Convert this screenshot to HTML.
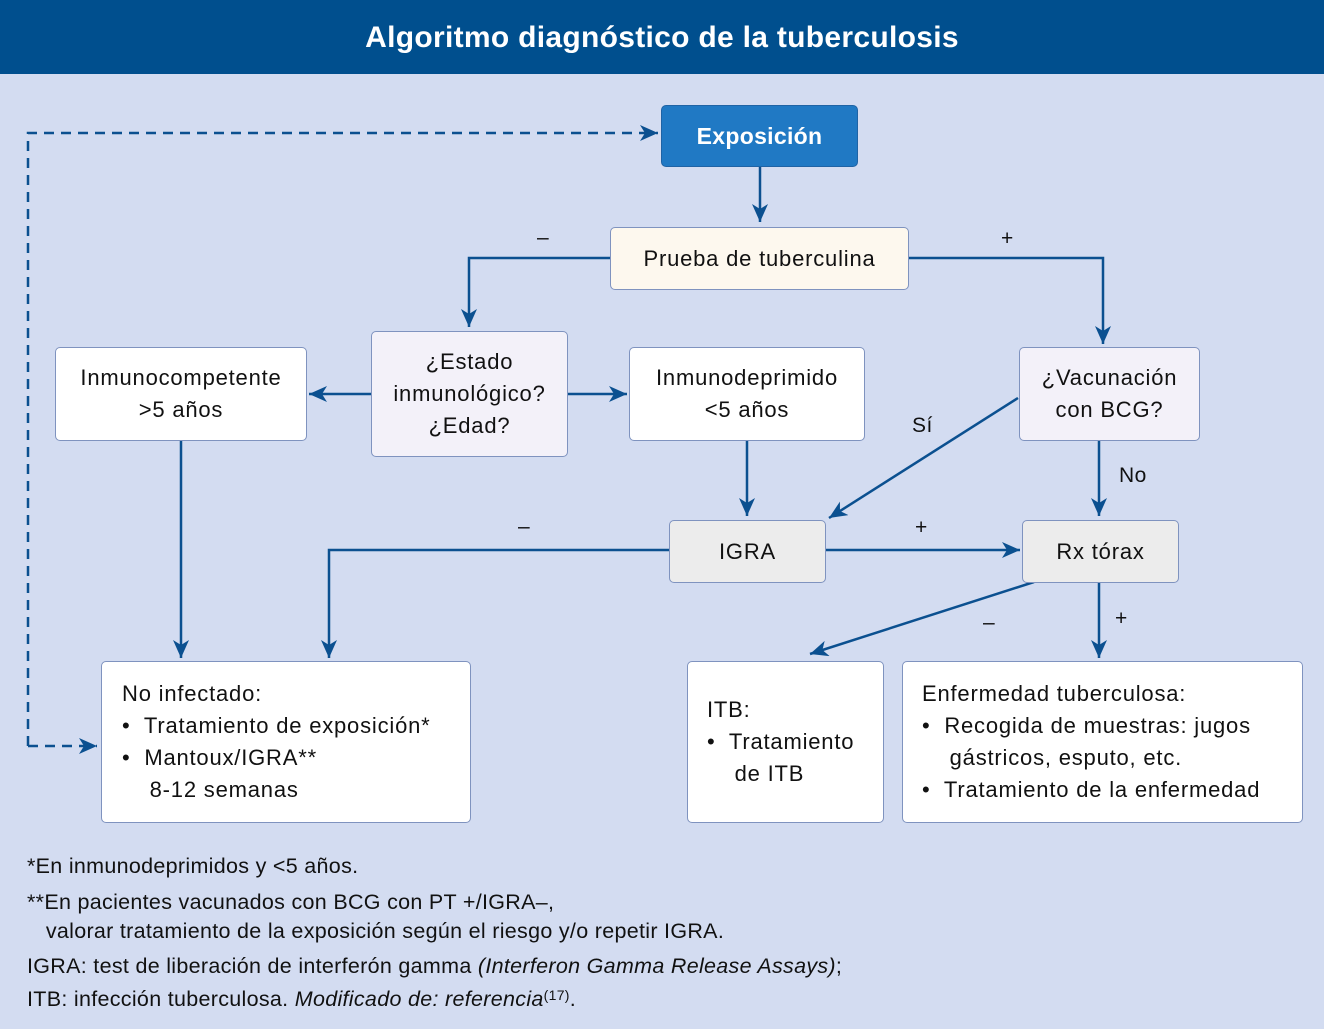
<!DOCTYPE html>
<html><head><meta charset="utf-8"><style>
body{margin:0;width:1324px;height:1029px;background:#d3dcf1;font-family:"Liberation Sans",sans-serif;position:relative;overflow:hidden;color:#111}
.hd{position:absolute;left:0;top:0;width:1324px;height:74px;background:#004f8e;color:#fff;font-weight:bold;font-size:30px;text-align:center;line-height:76px;letter-spacing:0.3px}
.b{position:absolute;box-sizing:border-box;border:1.5px solid #7f93bf;border-radius:5px;background:#fff;font-size:22px;letter-spacing:0.8px;display:flex;align-items:center;justify-content:center;text-align:center;line-height:32px}
.l{position:absolute;font-size:21px;letter-spacing:0.5px}
.lst{position:absolute;font-size:22px;letter-spacing:0.8px;line-height:32px}
.fn{position:absolute;left:27px;font-size:21.5px;letter-spacing:0.3px;line-height:29px;white-space:nowrap}
svg{position:absolute;left:0;top:0}
</style></head><body>
<div class="hd">Algoritmo diagnóstico de la tuberculosis</div>
<svg width="1324" height="1029">
<defs>
<marker id="a2" markerWidth="20" markerHeight="16" refX="18" refY="8" orient="auto" markerUnits="userSpaceOnUse"><path d="M0,0 L18,8 L0,16 L5,8Z" fill="#0b5090"/></marker></defs>
<g stroke="#0b5090" stroke-width="2.5" fill="none">
<path d="M760,167 V222" marker-end="url(#a2)"/>
<path d="M610,258 H469 V327" marker-end="url(#a2)"/>
<path d="M908,258 H1103 V344" marker-end="url(#a2)"/>
<path d="M371,394 H309" marker-end="url(#a2)"/>
<path d="M567,394 H627" marker-end="url(#a2)"/>
<path d="M747,440 V516" marker-end="url(#a2)"/>
<path d="M1018,398 L829,518" marker-end="url(#a2)"/>
<path d="M1099,440 V516" marker-end="url(#a2)"/>
<path d="M181,440 V658" marker-end="url(#a2)"/>
<path d="M669,550 H329 V658" marker-end="url(#a2)"/>
<path d="M826,550 H1020" marker-end="url(#a2)"/>
<path d="M1034,582 L810,654" marker-end="url(#a2)"/>
<path d="M1099,582 V658" marker-end="url(#a2)"/>
<path d="M28,746 V133 H658" stroke-dasharray="10,7" marker-end="url(#a2)"/>
<path d="M28,746 H97" stroke-dasharray="10,7" marker-end="url(#a2)"/>
</g></svg>
<div class="b" style="left:661px;top:105px;width:197px;height:62px;background:#2079c4;border-color:#1f63a5;color:#fff;font-weight:bold;font-size:23px;letter-spacing:0.3px">Exposición</div>
<div class="b" style="left:610px;top:227px;width:299px;height:63px;background:#fdf8ee">Prueba de tuberculina</div>
<div class="b" style="left:371px;top:331px;width:197px;height:126px;background:#f3f1f9">¿Estado<br>inmunológico?<br>¿Edad?</div>
<div class="b" style="left:55px;top:347px;width:252px;height:94px">Inmunocompetente<br>&gt;5 años</div>
<div class="b" style="left:629px;top:347px;width:236px;height:94px">Inmunodeprimido<br>&lt;5 años</div>
<div class="b" style="left:1019px;top:347px;width:181px;height:94px;background:#f3f1f9">¿Vacunación<br>con BCG?</div>
<div class="b" style="left:669px;top:520px;width:157px;height:63px;background:#ececec">IGRA</div>
<div class="b" style="left:1022px;top:520px;width:157px;height:63px;background:#ececec">Rx tórax</div>
<div class="b" style="left:101px;top:661px;width:370px;height:162px"></div>
<div class="lst" style="left:122px;top:678px">No infectado:<br>•&nbsp; Tratamiento de exposición*<br>•&nbsp; Mantoux/IGRA**<br>&nbsp;&nbsp;&nbsp;&nbsp;8-12 semanas</div>
<div class="b" style="left:687px;top:661px;width:197px;height:162px"></div>
<div class="lst" style="left:707px;top:694px">ITB:<br>•&nbsp; Tratamiento<br>&nbsp;&nbsp;&nbsp;&nbsp;de ITB</div>
<div class="b" style="left:902px;top:661px;width:401px;height:162px"></div>
<div class="lst" style="left:922px;top:678px">Enfermedad tuberculosa:<br>•&nbsp; Recogida de muestras: jugos<br>&nbsp;&nbsp;&nbsp;&nbsp;gástricos, esputo, etc.<br>•&nbsp; Tratamiento de la enfermedad</div>
<div class="l" style="left:537px;top:226px">–</div>
<div class="l" style="left:1001px;top:227px">+</div>
<div class="l" style="left:912px;top:414px">Sí</div>
<div class="l" style="left:1119px;top:464px">No</div>
<div class="l" style="left:518px;top:515px">–</div>
<div class="l" style="left:915px;top:516px">+</div>
<div class="l" style="left:983px;top:611px">–</div>
<div class="l" style="left:1115px;top:607px">+</div>
<div class="fn" style="top:852px">*En inmunodeprimidos y &lt;5 años.</div>
<div class="fn" style="top:888px">**En pacientes vacunados con BCG con PT +/IGRA–,<br>&nbsp;&nbsp;&nbsp;valorar tratamiento de la exposición según el riesgo y/o repetir IGRA.</div>
<div class="fn" style="top:952px">IGRA: test de liberación de interferón gamma <i>(Interferon Gamma Release Assays)</i>;</div>
<div class="fn" style="top:981px">ITB: infección tuberculosa. <i>Modificado de: referencia</i><span style="font-size:14px;vertical-align:6px">(17)</span>.</div>
</body></html>
